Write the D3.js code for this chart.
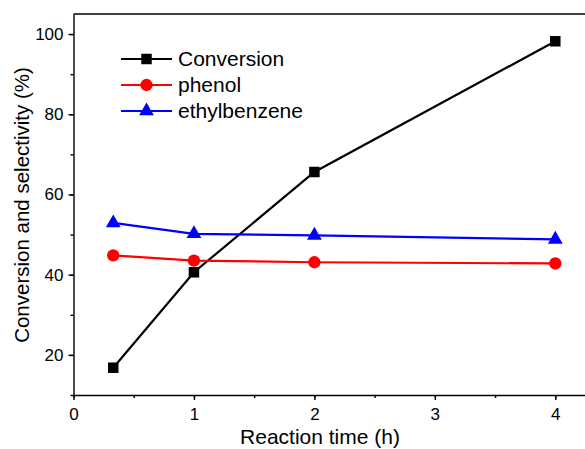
<!DOCTYPE html>
<html>
<head>
<meta charset="utf-8">
<script src="https://cdn.jsdelivr.net/npm/d3@7"></script>
<style>
  body { margin: 0; background: #fff; overflow: hidden; }
  svg { display: block; font-family: "Liberation Sans", Arial, sans-serif; }
</style>
</head>
<body>
<svg id="chart" width="585" height="449"></svg>
<script>
// data
const times = [0.33, 1, 2, 4];
const conversion = [16.8, 40.6, 65.6, 98.2];
const phenol = [44.8, 43.5, 43.1, 42.8];
const ethylbenzene = [52.9, 50.2, 49.8, 48.8];
const seriesNames = ['Conversion', 'phenol', 'ethylbenzene'];
const seriesColors = ['#000000', '#ff0000', '#0000ff'];
const xTicks = [0, 1, 2, 3, 4];
const yTicks = [20, 40, 60, 80, 100];

const series = [
  { name: seriesNames[0], values: conversion, color: seriesColors[0], shape: d3.symbolSquare, size: 110 },
  { name: seriesNames[1], values: phenol, color: seriesColors[1], shape: d3.symbolCircle, size: 120 },
  { name: seriesNames[2], values: ethylbenzene, color: seriesColors[2], shape: d3.symbolTriangle, size: 95 }
];

const svg = d3.select('#chart');
const margin = { top: 14, left: 73.5, bottom: 395 };

const x = d3.scaleLinear().domain([0, 4.5]).range([margin.left, margin.left + 4.5 * 120.45]);
const y = d3.scaleLinear().domain([10, 105]).range([margin.bottom, margin.top]);

// frame (right side falls outside the picture)
svg.append('line')
    .attr('x1', margin.left).attr('x2', x(4.5))
    .attr('y1', margin.top).attr('y2', margin.top)
    .attr('stroke', '#000').attr('stroke-width', 1.4);

// x axis with minor ticks
const xAxisG = svg.append('g')
    .attr('transform', `translate(0,${margin.bottom})`);
xAxisG.call(d3.axisBottom(x).tickValues(d3.range(0, 4.51, 0.5)).tickSize(3).tickFormat(''))
  .call(g => g.select('.domain').remove());
xAxisG.append('g').call(d3.axisBottom(x).tickValues(xTicks).tickSize(5).tickSizeOuter(0).tickPadding(8).tickFormat(d3.format('d')));
xAxisG.selectAll('text').attr('font-size', 17).attr('fill', '#000').attr('font-family', null);
xAxisG.selectAll('line, path').attr('stroke', '#000').attr('stroke-width', 1.4);

// y axis with minor ticks
const yAxisG = svg.append('g')
    .attr('transform', `translate(${margin.left},0)`);
yAxisG.call(d3.axisLeft(y).tickValues(d3.range(10, 101, 10)).tickSize(3).tickFormat(''))
  .call(g => g.select('.domain').remove());
yAxisG.append('g').call(d3.axisLeft(y).tickValues(yTicks).tickSize(5).tickSizeOuter(0).tickPadding(5));
yAxisG.selectAll('text').attr('font-size', 17).attr('fill', '#000').attr('font-family', null);
yAxisG.selectAll('line, path').attr('stroke', '#000').attr('stroke-width', 1.4);

// axis titles
svg.append('text')
    .attr('x', 320).attr('y', 444)
    .attr('text-anchor', 'middle')
    .attr('font-size', 21)
    .text('Reaction time (h)');

svg.append('text')
    .attr('transform', 'translate(29,205) rotate(-90)')
    .attr('text-anchor', 'middle')
    .attr('font-size', 20.5)
    .text('Conversion and selectivity (%)');

// lines and markers
const line = d3.line()
    .x((d, i) => x(times[i]))
    .y(d => y(d));

series.forEach(s => {
  svg.append('path')
      .datum(s.values)
      .attr('fill', 'none')
      .attr('stroke', s.color)
      .attr('stroke-width', 2.2)
      .attr('d', line);

  svg.selectAll(null)
      .data(s.values)
      .join('path')
      .attr('transform', (d, i) => `translate(${x(times[i])},${y(d)})`)
      .attr('d', d3.symbol(s.shape, s.size))
      .attr('fill', s.color);
});

// legend
const legend = svg.append('g').attr('transform', 'translate(121,59)');
series.forEach((s, i) => {
  const row = legend.append('g').attr('transform', `translate(0,${i * 26})`);
  row.append('line')
      .attr('x1', 0).attr('x2', 51)
      .attr('stroke', s.color).attr('stroke-width', 2.2);
  row.append('path')
      .attr('transform', 'translate(25.5,0)')
      .attr('d', d3.symbol(s.shape, s.size))
      .attr('fill', s.color);
  row.append('text')
      .attr('x', 57).attr('y', 7)
      .attr('font-size', 21)
      .text(s.name);
});
</script>
</body>
</html>
